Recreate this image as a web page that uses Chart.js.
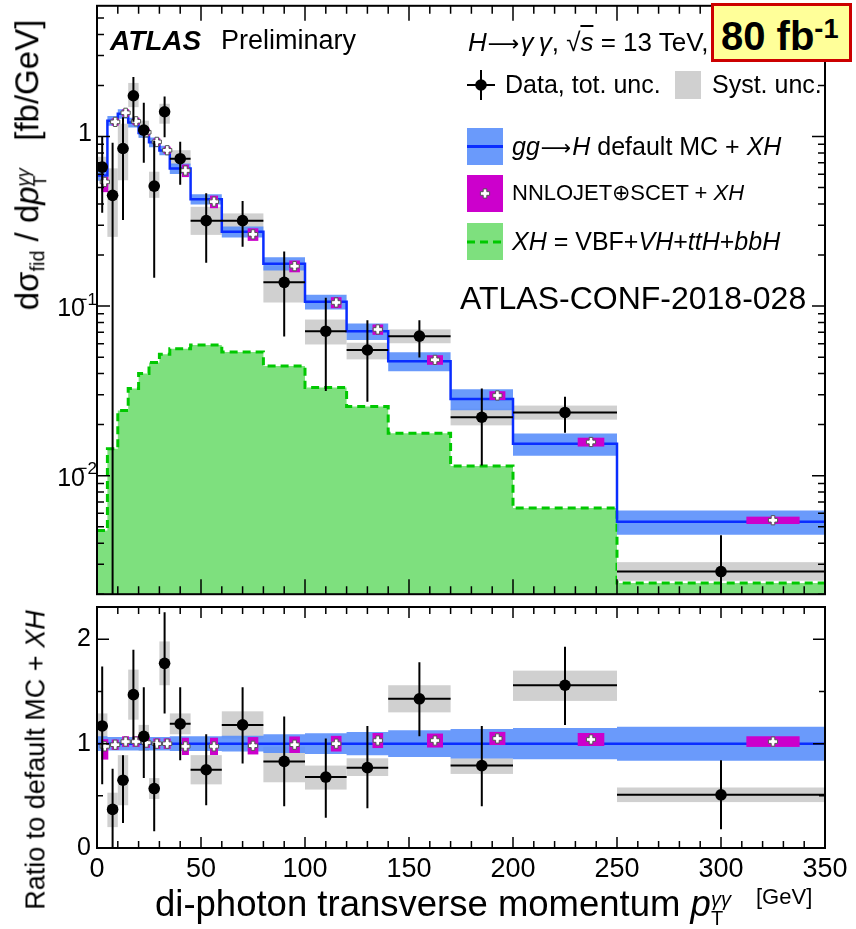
<!DOCTYPE html>
<html>
<head>
<meta charset="utf-8">
<script src="https://cdn.jsdelivr.net/npm/chart.js@4.4.1/dist/chart.umd.min.js"></script>
<style>
  html, body { margin: 0; padding: 0; background: #fff; }
  #wrap { position: relative; width: 856px; height: 929px; overflow: hidden;
          font-family: "Liberation Sans", Arial, sans-serif; color: #000; }
  .pane { position: absolute; left: 0; width: 856px; }
  .t { position: absolute; white-space: nowrap; line-height: 1; }
  .rot { transform: translate(-50%, -50%) rotate(-90deg); }
  .sb { font-size: 0.6em; vertical-align: -0.3em; line-height: 0; }
  .ss { display: inline-block; font-size: 0.55em; line-height: 0.95; vertical-align: -0.45em; }
  .ss span { display: block; }
  .arr { font-family: "DejaVu Sans", sans-serif; font-size: 0.85em; line-height: 0; margin: 0 1px; }
  #lumi { position: absolute; left: 711px; top: 3px; width: 141px; height: 59px; box-sizing: border-box;
          background: #ffff99; border: 3px solid #cc0000; font-weight: bold; font-size: 40px;
          line-height: 1; padding: 10px 0 0 7px; white-space: nowrap; }
  #lumi sup { font-size: 0.68em; vertical-align: 0.45em; line-height: 0; }
</style>
</head>
<body>
<div id="wrap">
  <div class="pane" style="top:0;height:600px"><canvas id="topChart"></canvas></div>
  <div class="pane" style="top:600px;height:300px"><canvas id="ratioChart"></canvas></div>

  <div class="t" style="left:110px;top:27px;font-size:28px;font-weight:bold;font-style:italic">ATLAS</div>
  <div class="t" style="left:221px;top:27px;font-size:27px">Preliminary</div>
  <div class="t" style="left:468px;top:29px;font-size:26px"><i>H</i><span class="arr">⟶</span><i>γ&thinsp;γ</i>, √<i style="text-decoration:overline">s</i> = 13 TeV,</div>
  <div id="lumi">80 fb<sup>-1</sup></div>

  <div class="t" style="left:505px;top:72px;font-size:25px">Data, tot. unc.</div>
  <div class="t" style="left:712px;top:72px;font-size:25px">Syst. unc.</div>
  <div class="t" style="left:512px;top:134px;font-size:25px"><i>gg</i><span class="arr">⟶</span><i>H</i> default MC + <i>XH</i></div>
  <div class="t" style="left:512px;top:182px;font-size:22px">NNLOJET⊕SCET + <i>XH</i></div>
  <div class="t" style="left:512px;top:229px;font-size:25px"><i>XH</i> = VBF+<i>VH</i>+<i>ttH</i>+<i>bbH</i></div>
  <div class="t" style="left:460px;top:282px;font-size:32px">ATLAS-CONF-2018-028</div>

  <div class="t rot" style="left:30px;top:165px;font-size:33px">dσ<span class="sb">fid</span> / d<i>p</i><span class="ss"><i>γγ</i><span>T</span></span>&nbsp;&nbsp;&nbsp;[fb/GeV]</div>
  <div class="t rot" style="left:36px;top:760px;font-size:27px">Ratio to default MC + <i>XH</i></div>

  <div class="t" style="left:155px;top:886px;font-size:36.5px">di-photon transverse momentum <i>p</i><span class="ss"><i>γγ</i><span>T</span></span></div>
  <div class="t" style="left:756px;top:886px;font-size:22px">[GeV]</div>
</div>

<script>
// bin edges in GeV
const edges = [0, 5, 10, 15, 20, 25, 30, 35, 45, 60, 80, 100, 120, 140, 170, 200, 250, 350];

// upper panel, fb/GeV
const dataVal   = [0.66, 0.45, 0.85, 1.74, 1.09, 0.51, 1.40, 0.74, 0.319, 0.319, 0.138, 0.0711, 0.0551, 0.0665, 0.0221, 0.0236, 0.00272];
const dataTotHi = [1.00, 0.92, 1.30, 2.24, 1.58, 0.94, 1.72, 0.93, 0.463, 0.417, 0.210, 0.112, 0.0826, 0.0826, 0.0327, 0.0292, 0.00446];
const dataTotLo = [0.355, 0.0005, 0.322, 1.22, 0.70, 0.147, 0.99, 0.52, 0.180, 0.224, 0.0662, 0.0316, 0.0273, 0.0498, 0.0115, 0.0179, 0.0005];
const systHi    = [0.76, 0.649, 1.19, 2.07, 1.24, 0.62, 1.56, 0.83, 0.385, 0.352, 0.172, 0.0833, 0.0608, 0.0729, 0.0248, 0.0259, 0.00309];
const systLo    = [0.625, 0.256, 0.552, 1.49, 0.98, 0.435, 1.19, 0.68, 0.263, 0.269, 0.105, 0.0594, 0.0485, 0.0604, 0.0198, 0.0214, 0.00240];
const mcVal     = [0.59, 1.24, 1.36, 1.21, 1.05, 0.926, 0.828, 0.647, 0.427, 0.274, 0.178, 0.106, 0.0711, 0.0473, 0.0283, 0.0154, 0.00535];
const mcRelUnc  = [0.07, 0.065, 0.065, 0.065, 0.065, 0.065, 0.065, 0.07, 0.07, 0.075, 0.09, 0.10, 0.112, 0.128, 0.141, 0.15, 0.163];
const nnloVal   = [0.54, 1.22, 1.38, 1.23, 1.06, 0.93, 0.83, 0.63, 0.413, 0.265, 0.172, 0.105, 0.0728, 0.0482, 0.0297, 0.0158, 0.00546];
const nnloRelUp = [0.07, 0.05, 0.05, 0.05, 0.05, 0.05, 0.05, 0.085, 0.085, 0.085, 0.08, 0.075, 0.07, 0.065, 0.06, 0.06, 0.05];
const nnloRelDn = [0.13, 0.05, 0.05, 0.05, 0.05, 0.05, 0.05, 0.085, 0.085, 0.085, 0.08, 0.075, 0.07, 0.065, 0.06, 0.06, 0.05];
const xhVal     = [0.00475, 0.0144, 0.0242, 0.0327, 0.040, 0.0465, 0.052, 0.0561, 0.0589, 0.0536, 0.0443, 0.0331, 0.0256, 0.0178, 0.0114, 0.00645, 0.00233];

// lower panel, ratio to default MC + XH
const ratioVal    = [1.17, 0.37, 0.65, 1.47, 1.07, 0.57, 1.77, 1.19, 0.75, 1.18, 0.83, 0.68, 0.77, 1.43, 0.79, 1.56, 0.51];
const ratioTotHi  = [1.74, 0.76, 0.89, 1.90, 1.54, 1.01, 2.26, 1.54, 1.09, 1.54, 1.26, 1.05, 1.17, 1.78, 1.17, 1.93, 0.84];
const ratioTotLo  = [0.61, -0.05, 0.24, 1.04, 0.67, 0.16, 1.29, 0.84, 0.41, 0.81, 0.40, 0.29, 0.38, 1.07, 0.40, 1.18, 0.18];
const ratioSystHi = [1.29, 0.53, 0.89, 1.71, 1.18, 0.67, 1.98, 1.29, 0.89, 1.31, 0.97, 0.79, 0.86, 1.56, 0.86, 1.70, 0.58];
const ratioSystLo = [1.06, 0.20, 0.41, 1.23, 0.93, 0.47, 1.56, 1.09, 0.61, 1.05, 0.63, 0.56, 0.69, 1.30, 0.71, 1.41, 0.44];
const nnloRatio   = [0.974, 0.99, 1.02, 1.02, 1.01, 1.0, 1.0, 0.974, 0.974, 0.98, 0.99, 1.0, 1.03, 1.03, 1.05, 1.04, 1.02];
const mcRatio     = [1, 1, 1, 1, 1, 1, 1, 1, 1, 1, 1, 1, 1, 1, 1, 1, 1];

// axis ticks
const xMajor = [0, 50, 100, 150, 200, 250, 300, 350];
const xMinor = [];
for (let v = 10; v < 350; v += 10) if (v % 50) xMinor.push(v);
const logMajor = [0.01, 0.1, 1];
const logMinor = [];
[0.001, 0.01, 0.1, 1].forEach(d => { for (let k = 2; k <= 9; k++) logMinor.push(k * d); });
const ratioMajor = [0, 1, 2];
const ratioMinor = [0.5, 1.5];

const FONT = '"Liberation Sans", Arial, sans-serif';
const BLUE = '#0a2dff';
const BAND = 'rgba(85,140,250,0.88)';
const GRAY = '#d0d0d0';
const MAGENTA = '#cc00cc';
const GREEN_FILL = '#7ee07e';
const GREEN_LINE = '#00c800';
const CLEAR = 'rgba(0,0,0,0)';

const centers = edges.slice(0, -1).map((e, i) => (e + edges[i + 1]) / 2);

function stepPts(vals) {
    const pts = vals.map((v, i) => ({x: edges[i], y: v}));
    pts.push({x: edges[edges.length - 1], y: vals[vals.length - 1]});
    return pts;
}

function drawCross(ctx, x, y) {
    const a = 4.6, t = 1.8;
    ctx.beginPath();
    ctx.moveTo(x - t, y - a); ctx.lineTo(x + t, y - a); ctx.lineTo(x + t, y - t);
    ctx.lineTo(x + a, y - t); ctx.lineTo(x + a, y + t); ctx.lineTo(x + t, y + t);
    ctx.lineTo(x + t, y + a); ctx.lineTo(x - t, y + a); ctx.lineTo(x - t, y + t);
    ctx.lineTo(x - a, y + t); ctx.lineTo(x - a, y - t); ctx.lineTo(x - t, y - t);
    ctx.closePath();
    ctx.fillStyle = '#fff';
    ctx.fill();
    ctx.lineWidth = 1;
    ctx.strokeStyle = '#555';
    ctx.stroke();
}

// draws syst boxes, NNLO boxes, error bars and the ROOT style frame through the chart scales
function hepPlugin(p) {
    return {
        id: 'hep',
        afterDatasetDraw(chart, args) {
            const {ctx, chartArea: a, scales: {x, y}} = chart;
            ctx.save();
            ctx.beginPath();
            ctx.rect(a.left, a.top, a.right - a.left, a.bottom - a.top);
            ctx.clip();
            if (args.index === p.boxAfter) {
                ctx.fillStyle = GRAY;
                p.systLo.forEach((lo, i) => {
                    const x1 = x.getPixelForValue(edges[i]), x2 = x.getPixelForValue(edges[i + 1]);
                    const y1 = y.getPixelForValue(p.systHi[i]), y2 = y.getPixelForValue(lo);
                    ctx.fillRect(x1, y1, x2 - x1, y2 - y1);
                });
            }
            if (args.index === 1) {
                // NNLOJET+SCET boxes with white crosses
                p.nnlo.forEach((v, i) => {
                    const w = edges[i + 1] - edges[i];
                    const xc = x.getPixelForValue(edges[i] + 0.75 * w);
                    const hw = Math.max(x.getPixelForValue(edges[i] + 0.878 * w) - xc, 3.5);
                    const y1 = y.getPixelForValue(v * (1 + nnloRelUp[i]));
                    const y2 = y.getPixelForValue(v * (1 - nnloRelDn[i]));
                    ctx.fillStyle = MAGENTA;
                    ctx.fillRect(xc - hw, y1, 2 * hw, y2 - y1);
                    drawCross(ctx, xc, y.getPixelForValue(v));
                });
                // data error bars
                ctx.strokeStyle = '#000';
                ctx.lineWidth = 2;
                ctx.beginPath();
                p.val.forEach((v, i) => {
                    const xc = x.getPixelForValue(centers[i]);
                    const yc = y.getPixelForValue(v);
                    ctx.moveTo(x.getPixelForValue(edges[i]), yc);
                    ctx.lineTo(x.getPixelForValue(edges[i + 1]), yc);
                    ctx.moveTo(xc, y.getPixelForValue(p.totHi[i]));
                    ctx.lineTo(xc, y.getPixelForValue(p.totLo[i]));
                });
                ctx.stroke();
            }
            ctx.restore();
        },
        afterDraw(chart) {
            const {ctx, chartArea: a, scales: {x, y}} = chart;
            ctx.save();
            ctx.strokeStyle = '#000';
            ctx.lineWidth = 1.5;
            ctx.beginPath();
            const tx = (vals, len) => vals.forEach(v => {
                const px = x.getPixelForValue(v);
                ctx.moveTo(px, a.bottom); ctx.lineTo(px, a.bottom - len);
                ctx.moveTo(px, a.top); ctx.lineTo(px, a.top + len);
            });
            const ty = (vals, len) => vals.forEach(v => {
                if (v < y.min || v > y.max) return;
                const py = y.getPixelForValue(v);
                ctx.moveTo(a.left, py); ctx.lineTo(a.left + len, py);
                ctx.moveTo(a.right, py); ctx.lineTo(a.right - len, py);
            });
            tx(xMajor, p.tick.xMaj);
            tx(xMinor, p.tick.xMin);
            ty(p.yMajor, p.tick.yMaj);
            ty(p.yMinor, p.tick.yMin);
            ctx.stroke();
            ctx.lineWidth = 2;
            ctx.strokeRect(a.left, a.top, a.right - a.left, a.bottom - a.top);
            ctx.restore();
            if (p.extra) p.extra(chart);
        }
    };
}

// decade labels of the log axis, written as 10 with a raised exponent
function drawLogLabels(chart) {
    const {ctx, scales: {y}} = chart;
    ctx.save();
    ctx.fillStyle = '#000';
    ctx.textBaseline = 'middle';
    ctx.textAlign = 'right';
    logMajor.forEach(v => {
        const e = Math.round(Math.log10(v));
        const py = y.getPixelForValue(v);
        if (e === 0) {
            ctx.font = '25px ' + FONT;
            ctx.fillText('1', 92, py - 2);
        } else {
            ctx.font = '25px ' + FONT;
            ctx.fillText('10', 85, py + 3);
            ctx.font = '17px ' + FONT;
            ctx.fillText('\u2212' + (-e), 97, py - 6);
        }
    });
    ctx.restore();
}

// legend symbols, drawn on the upper canvas
function drawLegendSymbols(ctx) {
    ctx.save();
    ctx.strokeStyle = '#000';
    ctx.lineWidth = 2;
    ctx.beginPath();
    ctx.moveTo(481, 70); ctx.lineTo(481, 100);
    ctx.moveTo(467, 85); ctx.lineTo(495, 85);
    ctx.stroke();
    ctx.fillStyle = '#000';
    ctx.beginPath(); ctx.arc(481, 85, 5.8, 0, 2 * Math.PI); ctx.fill();
    ctx.fillStyle = GRAY;
    ctx.fillRect(675, 71, 26, 28);

    ctx.fillStyle = BAND;
    ctx.fillRect(467, 128, 36, 37);
    ctx.strokeStyle = BLUE; ctx.lineWidth = 3;
    ctx.beginPath(); ctx.moveTo(467, 146.5); ctx.lineTo(503, 146.5); ctx.stroke();

    ctx.fillStyle = MAGENTA;
    ctx.fillRect(467, 175, 36, 37);
    drawCross(ctx, 485, 193.5);

    ctx.fillStyle = GREEN_FILL;
    ctx.fillRect(467, 223, 36, 37);
    ctx.strokeStyle = GREEN_LINE; ctx.lineWidth = 3; ctx.setLineDash([8, 5]);
    ctx.beginPath(); ctx.moveTo(467, 242); ctx.lineTo(503, 242); ctx.stroke();
    ctx.restore();
}

const topChart = new Chart(document.getElementById('topChart'), {
    type: 'line',
    data: {
        datasets: [
            {label: 'Data', data: centers.map((c, i) => ({x: c, y: dataVal[i]})), showLine: false,
             pointRadius: 5.8, pointBackgroundColor: '#000', pointBorderColor: '#000', pointBorderWidth: 0},
            {label: 'default MC + XH', data: stepPts(mcVal), stepped: true, borderColor: BLUE, borderWidth: 2.5,
             pointRadius: 0, fill: false},
            {label: 'MC up', data: stepPts(mcVal.map((v, i) => v * (1 + mcRelUnc[i]))), stepped: true,
             borderColor: CLEAR, borderWidth: 0, pointRadius: 0, fill: '+1', backgroundColor: BAND},
            {label: 'MC down', data: stepPts(mcVal.map((v, i) => v * (1 - mcRelUnc[i]))), stepped: true,
             borderColor: CLEAR, borderWidth: 0, pointRadius: 0, fill: false},
            {label: 'XH', data: stepPts(xhVal), stepped: true, borderColor: GREEN_LINE, borderWidth: 3,
             borderDash: [8, 5], pointRadius: 0, fill: 'start', backgroundColor: GREEN_FILL}
        ]
    },
    options: {
        animation: false,
        responsive: true,
        maintainAspectRatio: false,
        layout: {padding: {top: 5, right: 31, left: 0, bottom: 0}},
        plugins: {legend: {display: false}, tooltip: {enabled: false}},
        scales: {
            x: {type: 'linear', min: 0, max: 350,
                ticks: {display: false}, grid: {display: false, drawTicks: false}, border: {display: false},
                afterFit: s => { s.height = 3; }},
            y: {type: 'logarithmic', min: 0.002, max: 5.9,
                afterBuildTicks: s => { s.ticks = logMajor.map(v => ({value: v})); },
                ticks: {display: false},
                grid: {display: false, drawTicks: false}, border: {display: false},
                afterFit: s => { s.width = 97; s.paddingTop = 0; s.paddingBottom = 0; }}
        }
    },
    plugins: [hepPlugin({
        boxAfter: 4, val: dataVal, totHi: dataTotHi, totLo: dataTotLo, systHi: systHi, systLo: systLo,
        nnlo: nnloVal, yMajor: logMajor, yMinor: logMinor,
        tick: {xMaj: 15, xMin: 8, yMaj: 13, yMin: 7},
        extra: chart => { drawLogLabels(chart); drawLegendSymbols(chart.ctx); }
    })]
});

const ratioChart = new Chart(document.getElementById('ratioChart'), {
    type: 'line',
    data: {
        datasets: [
            {label: 'Data', data: centers.map((c, i) => ({x: c, y: ratioVal[i]})), showLine: false,
             pointRadius: 5.8, pointBackgroundColor: '#000', pointBorderColor: '#000', pointBorderWidth: 0},
            {label: 'default MC + XH', data: stepPts(mcRatio), stepped: true, borderColor: BLUE, borderWidth: 2.5,
             pointRadius: 0, fill: false},
            {label: 'MC up', data: stepPts(mcRatio.map((v, i) => v + mcRelUnc[i])), stepped: true,
             borderColor: CLEAR, borderWidth: 0, pointRadius: 0, fill: '+1', backgroundColor: BAND},
            {label: 'MC down', data: stepPts(mcRatio.map((v, i) => v - mcRelUnc[i])), stepped: true,
             borderColor: CLEAR, borderWidth: 0, pointRadius: 0, fill: false}
        ]
    },
    options: {
        animation: false,
        responsive: true,
        maintainAspectRatio: false,
        layout: {padding: {top: 7, right: 31, left: 0, bottom: 0}},
        plugins: {legend: {display: false}, tooltip: {enabled: false}},
        scales: {
            x: {type: 'linear', min: 0, max: 350,
                afterBuildTicks: s => { s.ticks = xMajor.map(v => ({value: v})); },
                ticks: {autoSkip: false, maxRotation: 0, color: '#000', padding: 5, font: {family: FONT, size: 27}},
                grid: {display: false, drawTicks: false}, border: {display: false},
                afterFit: s => { s.height = 52; }},
            y: {type: 'linear', min: 0, max: 2.31,
                afterBuildTicks: s => { s.ticks = ratioMajor.map(v => ({value: v})); },
                ticks: {autoSkip: false, color: '#000', padding: 6, font: {family: FONT, size: 25}},
                grid: {display: false, drawTicks: false}, border: {display: false},
                afterFit: s => { s.width = 97; s.paddingTop = 0; s.paddingBottom = 0; }}
        }
    },
    plugins: [hepPlugin({
        boxAfter: 3, val: ratioVal, totHi: ratioTotHi, totLo: ratioTotLo, systHi: ratioSystHi, systLo: ratioSystLo,
        nnlo: nnloRatio, yMajor: ratioMajor, yMinor: ratioMinor,
        tick: {xMaj: 11, xMin: 7, yMaj: 12, yMin: 6}
    })]
});
</script>
</body>
</html>
